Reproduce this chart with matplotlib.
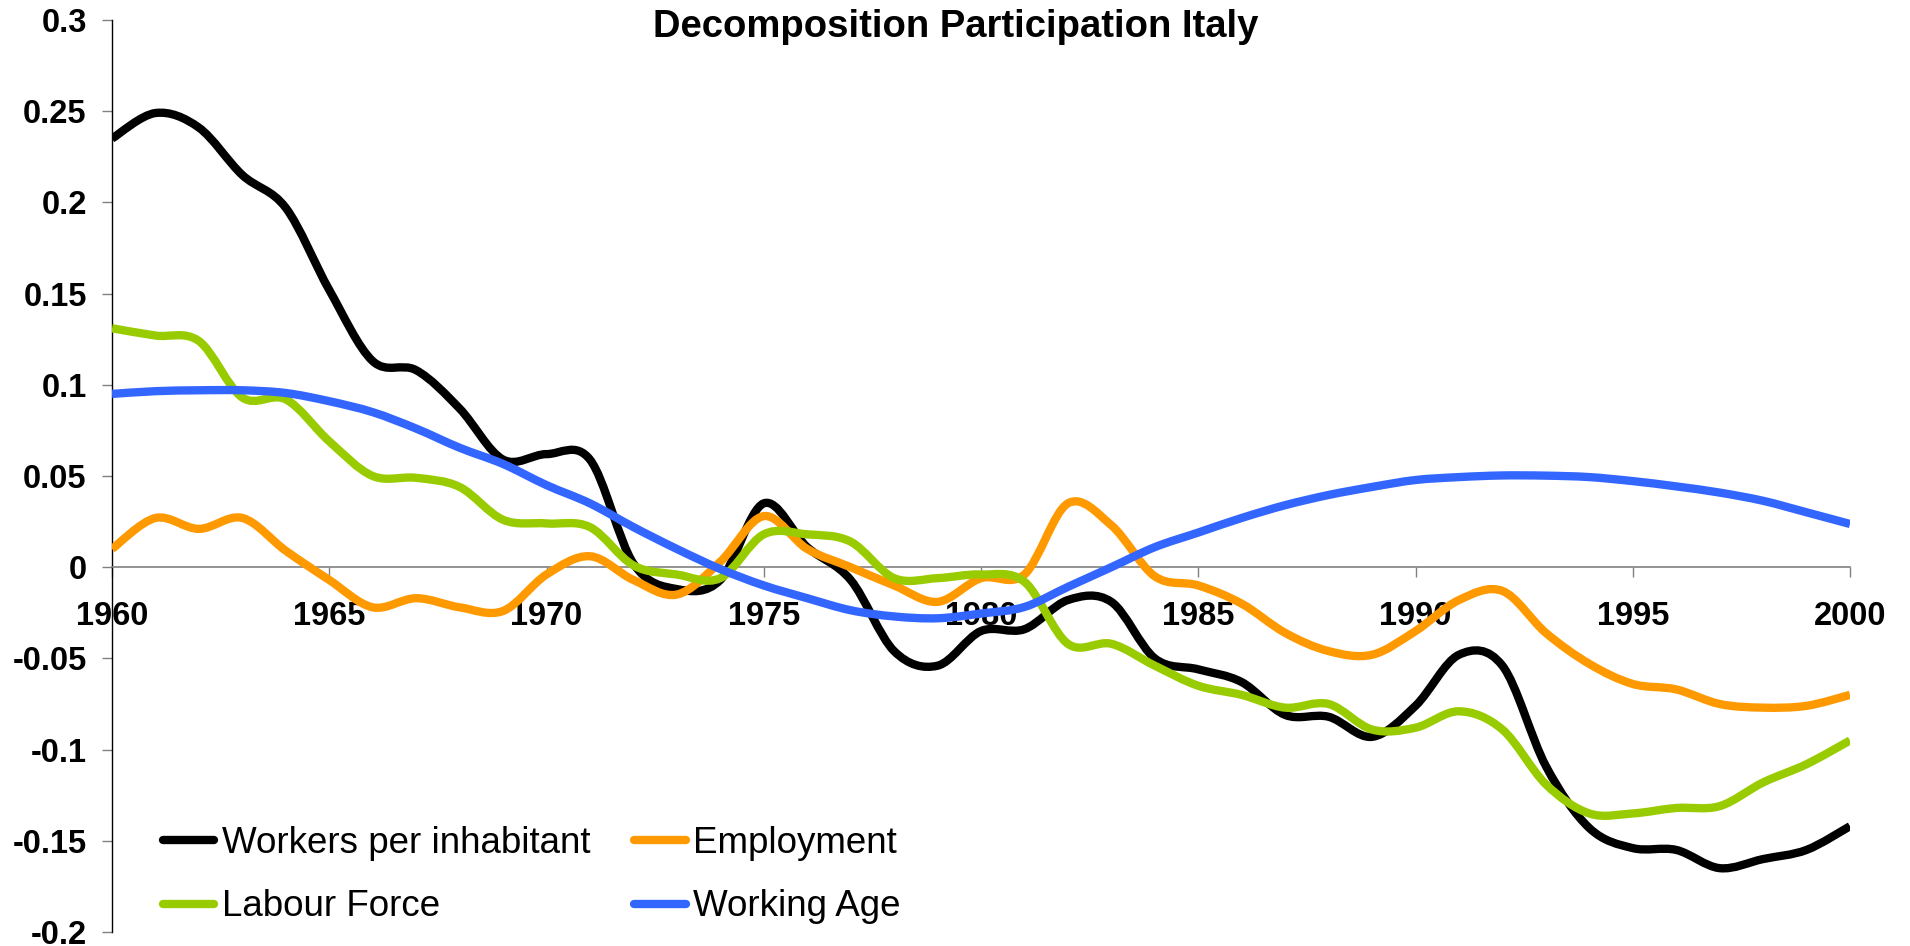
import matplotlib
matplotlib.use("Agg")
import matplotlib.pyplot as plt
from matplotlib.path import Path
from matplotlib.patches import PathPatch
from matplotlib.lines import Line2D
from matplotlib.ticker import FuncFormatter, MultipleLocator
import numpy as np

# data, one value per year 1960..2000
years = list(range(1960, 2001))

workers = [0.235, 0.249, 0.241, 0.215, 0.197, 0.152, 0.113, 0.108, 0.087, 0.059,
           0.062, 0.059, 0.002, -0.012, -0.007, 0.035, 0.011, -0.007, -0.046, -0.054,
           -0.035, -0.034, -0.018, -0.019, -0.050, -0.056, -0.063, -0.081, -0.082, -0.093,
           -0.076, -0.048, -0.054, -0.109, -0.143, -0.154, -0.155, -0.165, -0.160, -0.155,
           -0.142]

employment = [0.010, 0.027, 0.021, 0.027, 0.009, -0.007, -0.022, -0.017, -0.022, -0.024,
              -0.004, 0.006, -0.007, -0.015, 0.003, 0.028, 0.010, 0.000, -0.010, -0.019,
              -0.006, -0.004, 0.035, 0.023, -0.005, -0.010, -0.020, -0.036, -0.046, -0.048,
              -0.035, -0.018, -0.013, -0.036, -0.053, -0.064, -0.067, -0.075, -0.077, -0.076,
              -0.070]

labour_force = [0.131, 0.127, 0.124, 0.093, 0.092, 0.069, 0.050, 0.049, 0.044, 0.026,
                0.024, 0.022, 0.001, -0.004, -0.006, 0.018, 0.018, 0.014, -0.006, -0.006,
                -0.004, -0.008, -0.042, -0.042, -0.054, -0.065, -0.070, -0.077, -0.075, -0.089,
                -0.088, -0.079, -0.089, -0.119, -0.135, -0.135, -0.132, -0.131, -0.118, -0.108,
                -0.095]

working_age = [0.095, 0.0965, 0.097, 0.097, 0.0955, 0.091, 0.085, 0.076, 0.0655, 0.0566,
               0.045, 0.035, 0.022, 0.010, -0.001, -0.010, -0.017, -0.0236, -0.027, -0.028,
               -0.0254, -0.0218, -0.0108, 0.000, 0.011, 0.019, 0.027, 0.034, 0.0396, 0.044,
               0.0478, 0.0494, 0.0503, 0.0502, 0.0494, 0.0472, 0.0443, 0.0409, 0.0364, 0.0301,
               0.0237]

series = [
    ("Workers per inhabitant", workers, "#000000"),
    ("Employment", employment, "#FF9900"),
    ("Labour Force", labour_force, "#99CC00"),
    ("Working Age", working_age, "#3366FF"),
]

LW = 6.0


def smooth_path(x, y):
    # excel style smoothed line: catmull-rom turned into cubic bezier segments
    x = np.asarray(x, float)
    y = np.asarray(y, float)
    n = len(x)
    verts = [(x[0], y[0])]
    codes = [Path.MOVETO]
    for i in range(n - 1):
        i0 = max(i - 1, 0)
        i3 = min(i + 2, n - 1)
        c1 = (x[i] + (x[i + 1] - x[i0]) / 6.0, y[i] + (y[i + 1] - y[i0]) / 6.0)
        c2 = (x[i + 1] - (x[i3] - x[i]) / 6.0, y[i + 1] - (y[i3] - y[i]) / 6.0)
        verts += [c1, c2, (x[i + 1], y[i + 1])]
        codes += [Path.CURVE4] * 3
    return Path(verts, codes)


plt.rcParams['font.family'] = ['Liberation Sans', 'DejaVu Sans']

fig = plt.figure(figsize=(19.1, 9.46), dpi=100)
ax = fig.add_axes([112 / 1910, 1 - 932 / 946, (1850 - 112) / 1910, (932 - 20) / 946])

handles = {}
for z, (name, vals, col) in enumerate(series):
    patch = PathPatch(smooth_path(years, vals), facecolor="none", edgecolor=col,
                      lw=LW, capstyle="butt", joinstyle="round", zorder=3 + z)
    ax.add_patch(patch)
    handles[name] = Line2D([], [], color=col, lw=LW, solid_capstyle="round")

ax.set_xlim(1960, 2000)
ax.set_ylim(-0.2, 0.3)

ax.spines['top'].set_visible(False)
ax.spines['right'].set_visible(False)
ax.spines['left'].set_color("black")
ax.spines['left'].set_linewidth(1.0)
ax.spines['bottom'].set_position(('data', 0))
ax.spines['bottom'].set_color("#808080")
ax.spines['bottom'].set_linewidth(1.2)

ax.xaxis.set_major_locator(MultipleLocator(5))
ax.yaxis.set_major_locator(MultipleLocator(0.05))
ax.yaxis.set_major_formatter(FuncFormatter(lambda v, p: "%g" % round(v, 2)))

ax.tick_params(axis='x', direction='out', length=7.2, width=1.0, color="#808080",
               pad=17, labelsize=23.5)
ax.tick_params(axis='y', direction='out', length=7.2, width=1.0, color="#808080",
               pad=11, labelsize=23.5)
for lab in ax.get_xticklabels() + ax.get_yticklabels():
    lab.set_fontweight("bold")

fig.text(956 / 1910, 1 - 27 / 946, "Decomposition Participation Italy",
         ha="center", va="center", fontsize=27.5, fontweight="bold")

order = ["Workers per inhabitant", "Labour Force", "Employment", "Working Age"]
ax.legend([handles[k] for k in order], order, ncol=2, frameon=False,
          loc="upper left", bbox_to_anchor=(137 / 1910, 1 - 800 / 946),
          bbox_transform=fig.transFigure, fontsize=26.5, handlelength=1.4,
          handletextpad=0.2, columnspacing=1.2, labelspacing=0.78, borderpad=0.2)

fig.savefig("out.png", dpi=100)
